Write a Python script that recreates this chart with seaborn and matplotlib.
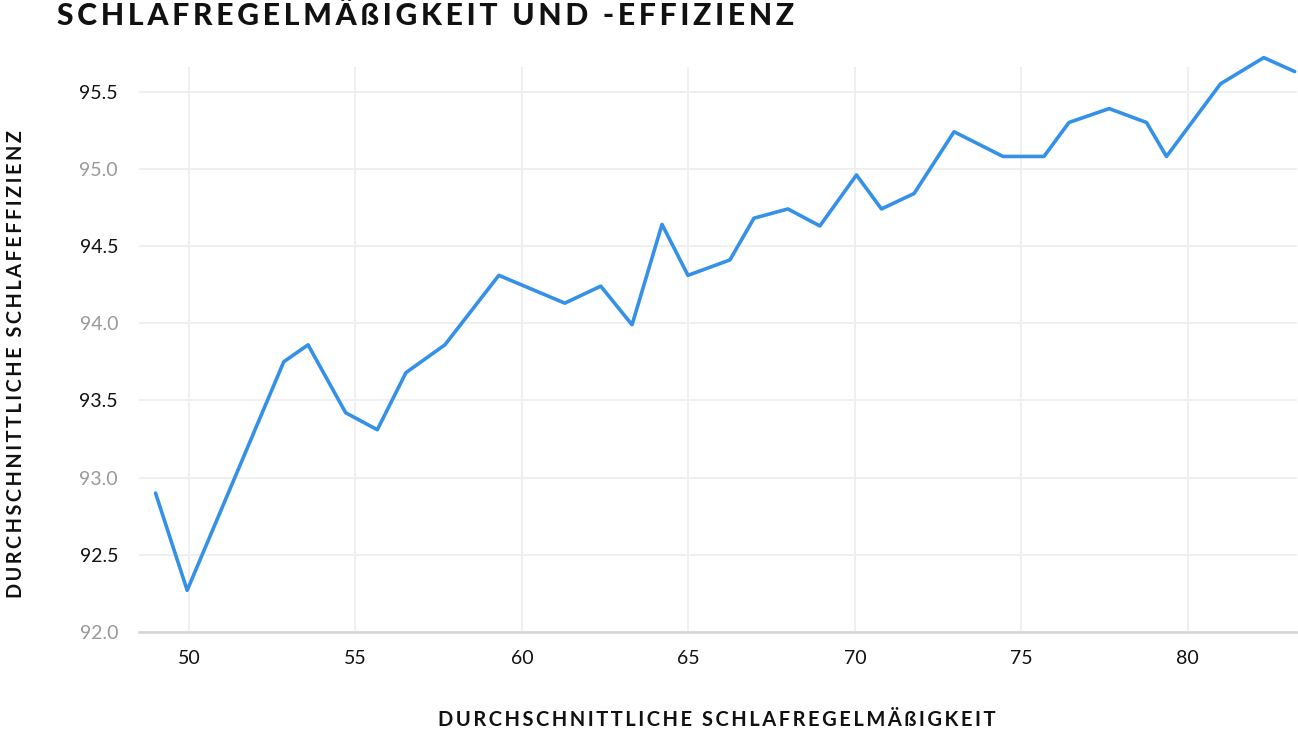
import numpy as np
import pandas as pd
import matplotlib
matplotlib.use('Agg')
import matplotlib.pyplot as plt
import seaborn as sns

# Data
regularity = [49.0, 49.95, 52.85, 53.58, 54.71, 55.66, 56.52, 57.69, 59.31, 61.29,
              62.37, 63.31, 64.21, 64.99, 66.25, 66.97, 67.99, 68.95, 70.05, 70.8,
              71.78, 72.98, 74.45, 75.68, 76.43, 77.64, 78.76, 79.36, 80.98, 82.28,
              83.21]
efficiency = [92.9, 92.27, 93.75, 93.86, 93.42, 93.31, 93.68, 93.86, 94.31, 94.13,
              94.24, 93.99, 94.64, 94.31, 94.41, 94.68, 94.74, 94.63, 94.96, 94.74,
              94.84, 95.24, 95.08, 95.08, 95.3, 95.39, 95.3, 95.08, 95.55, 95.72,
              95.63]
x_ticks = [50, 55, 60, 65, 70, 75, 80]
y_ticks = [92.0, 92.5, 93.0, 93.5, 94.0, 94.5, 95.0, 95.5]

title = 'SCHLAFREGELMÄßIGKEIT UND -EFFIZIENZ'
x_label = 'DURCHSCHNITTLICHE SCHLAFREGELMÄßIGKEIT'
y_label = 'DURCHSCHNITTLICHE SCHLAFEFFIZIENZ'

df = pd.DataFrame({'x': regularity, 'y': efficiency})

sns.set_style('white')
plt.rcParams['font.family'] = ['Lato', 'DejaVu Sans']


def spaced(s):
    # fake letter spacing with thin spaces
    return '\u2009'.join(s)


fig = plt.figure(figsize=(12.98, 7.32), dpi=100)
ax = fig.add_axes([0.107, 0.1366, 0.892, 0.772])

sns.lineplot(data=df, x='x', y='y', ax=ax, color='#3591e8', linewidth=2.6,
             clip_on=False, sort=False)

ax.set_xlim(48.5, 83.27)
ax.set_ylim(92.0, 95.66)
ax.set_xticks(x_ticks)
ax.set_yticks(y_ticks)
ax.set_xticklabels([str(t) for t in x_ticks], fontsize=14, color='#111111')
ax.set_yticklabels([f'{t:.1f}' for t in y_ticks], fontsize=14)
for i, lab in enumerate(ax.get_yticklabels()):
    lab.set_color('#999999' if i % 2 == 0 else '#111111')

ax.tick_params(axis='x', length=0, pad=13)
ax.tick_params(axis='y', length=0, pad=15)
ax.grid(True, color='#efeff2', linewidth=1.4)
for side in ['top', 'right', 'left']:
    ax.spines[side].set_visible(False)
ax.spines['bottom'].set_color('#d4d4d4')
ax.spines['bottom'].set_linewidth(1.8)

ax.set_xlabel('')
ax.set_ylabel('')
fig.text(0.552, 0.017, spaced(x_label), ha='center', va='center',
         fontsize=14.5, fontweight='bold', color='#111111')
fig.text(0.005, 0.502, spaced(y_label), ha='left', va='center', rotation=90,
         fontsize=14.3, fontweight='bold', color='#111111')
fig.text(0.044, 0.978, spaced(title), ha='left', va='center',
         fontsize=21.7, fontweight='black', color='#111111')

plt.savefig('out.png', dpi=100)
plt.close()
